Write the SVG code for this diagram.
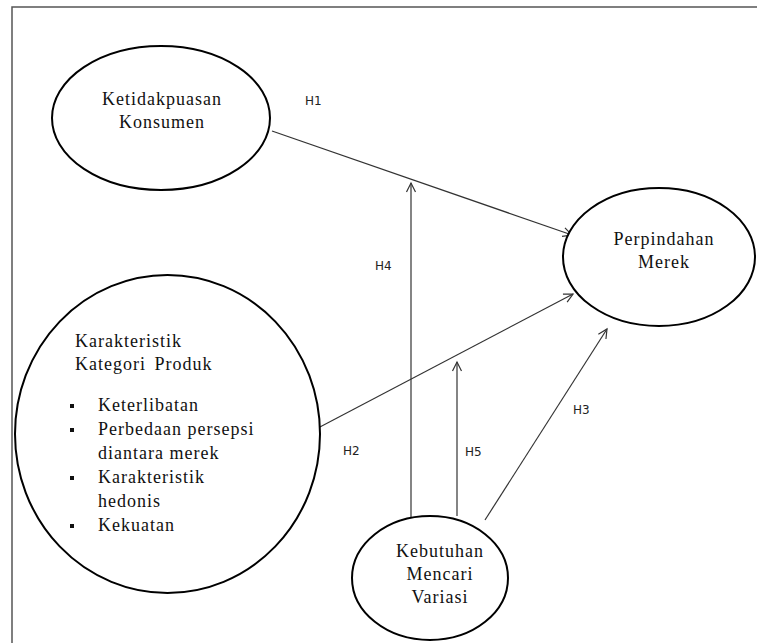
<svg xmlns="http://www.w3.org/2000/svg" width="757" height="643" viewBox="0 0 757 643">
<style>
.node{fill:#fff;stroke:#000;stroke-width:2}
.t{font-family:"Liberation Serif","Times New Roman",Times,serif;font-size:18px;fill:#111;letter-spacing:1px}
.c{text-anchor:middle}
.lbl{font-family:"DejaVu Sans",Verdana,sans-serif;font-size:12px;fill:#222}
.edge{stroke:#333;stroke-width:1.2;fill:none}
.frame{stroke:#555;stroke-width:1.5;fill:none}
</style>
<defs>
<marker id="arr" markerWidth="12" markerHeight="12" refX="10" refY="6" orient="auto" markerUnits="userSpaceOnUse">
<path d="M1,1.5 L10,6 L1,10.5" fill="none" stroke="#333" stroke-width="1.2"/>
</marker>
</defs>
<rect width="757" height="643" fill="#fff"/>
<path class="frame" d="M12,643 L12,7 L757,7"/>
<g id="connectors">
<line class="edge" x1="272" y1="131" x2="572" y2="235" marker-end="url(#arr)"/>
<line class="edge" x1="318" y1="428" x2="573" y2="294" marker-end="url(#arr)"/>
<line class="edge" x1="485" y1="520" x2="607" y2="329" marker-end="url(#arr)"/>
<line class="edge" x1="411" y1="522" x2="411" y2="183" marker-end="url(#arr)"/>
<line class="edge" x1="457" y1="516" x2="457" y2="362" marker-end="url(#arr)"/>
<text class="lbl" x="305" y="105">H1</text>
<text class="lbl" x="375" y="270">H4</text>
<text class="lbl" x="343" y="455">H2</text>
<text class="lbl" x="465" y="456">H5</text>
<text class="lbl" x="573" y="414">H3</text>
</g>
<g id="ketidakpuasan">
<ellipse class="node" cx="161" cy="118" rx="109" ry="72"/>
<text class="t c" x="162" y="105">Ketidakpuasan</text>
<text class="t c" x="162" y="128">Konsumen</text>
</g>
<g id="perpindahan">
<ellipse class="node" cx="659" cy="257" rx="96" ry="69"/>
<text class="t c" x="664" y="245">Perpindahan</text>
<text class="t c" x="664" y="268">Merek</text>
</g>
<g id="karakteristik">
<ellipse class="node" cx="167.5" cy="434" rx="152.5" ry="159"/>
<text class="t" x="75" y="347">Karakteristik</text>
<text class="t" x="75" y="370" word-spacing="3">Kategori Produk</text>
<g fill="#111">
<rect x="70" y="404" width="4" height="4"/>
<rect x="70" y="428" width="4" height="4"/>
<rect x="70" y="476" width="4" height="4"/>
<rect x="70" y="524" width="4" height="4"/>
</g>
<text class="t" x="98" y="411">Keterlibatan</text>
<text class="t" x="98" y="435">Perbedaan persepsi</text>
<text class="t" x="98" y="459">diantara merek</text>
<text class="t" x="98" y="483">Karakteristik</text>
<text class="t" x="98" y="507">hedonis</text>
<text class="t" x="98" y="531">Kekuatan</text>
</g>
<g id="kebutuhan">
<ellipse class="node" cx="430" cy="578" rx="78" ry="62"/>
<text class="t c" x="440" y="557">Kebutuhan</text>
<text class="t c" x="440" y="580">Mencari</text>
<text class="t c" x="440" y="603">Variasi</text>
</g>
</svg>
